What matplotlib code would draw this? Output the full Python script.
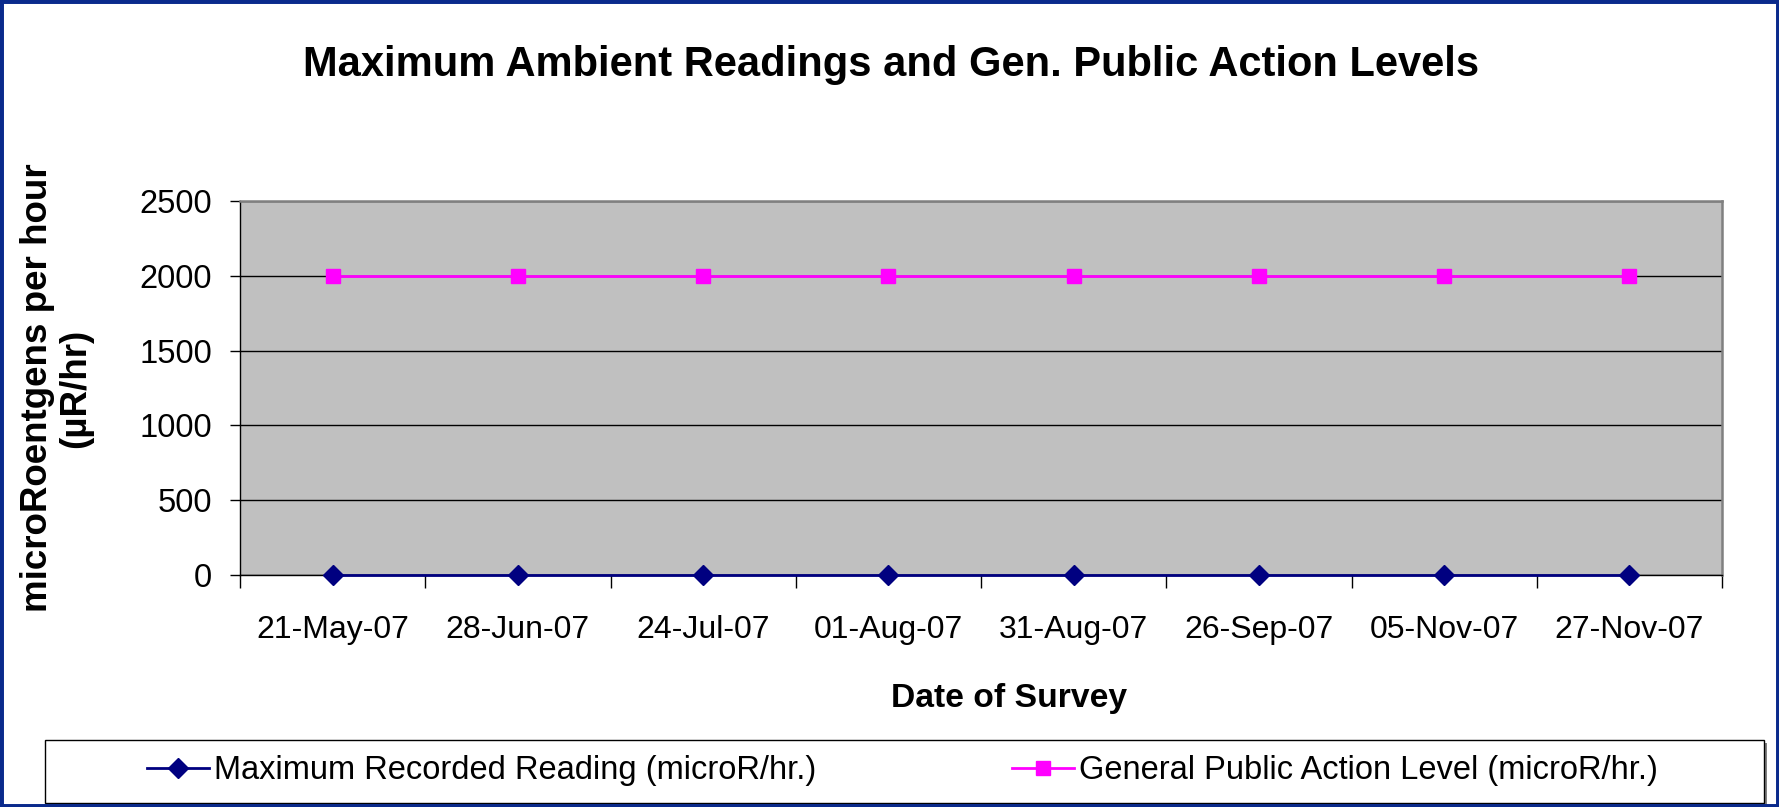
import numpy as np
from matplotlib import pyplot as plt
from matplotlib.patches import Rectangle

plt.rcParams['font.family'] = ['Liberation Sans', 'DejaVu Sans']

DATES = ["21-May-07", "28-Jun-07", "24-Jul-07", "01-Aug-07",
         "31-Aug-07", "26-Sep-07", "05-Nov-07", "27-Nov-07"]
MAX_READING = [0, 0, 0, 0, 0, 0, 0, 0]
ACTION_LEVEL = [2000, 2000, 2000, 2000, 2000, 2000, 2000, 2000]
YTICKS = [0, 500, 1000, 1500, 2000, 2500]

NAVY = "#000080"
MAGENTA = "#FF00FF"

W, H = 1779, 807
fig = plt.figure(figsize=(W / 100, H / 100), dpi=100)
ax = fig.add_axes([240 / W, 1 - 575 / H, (1722 - 240) / W, (575 - 201) / H])
ax.set_facecolor("#C0C0C0")

x = np.arange(len(DATES))
ax.plot(x, MAX_READING, "-", color=NAVY, lw=2, marker="D", ms=10,
        label="Maximum Recorded Reading (microR/hr.)", zorder=3, clip_on=False)
ax.plot(x, ACTION_LEVEL, "-", color=MAGENTA, lw=2, marker="s", ms=9.5,
        label="General Public Action Level (microR/hr.)", zorder=3)

ax.set_xlim(-0.5, len(DATES) - 0.5)
ax.set_ylim(0, 2500)
ax.set_yticks(YTICKS)
ax.set_yticklabels([str(v) for v in YTICKS])
ax.yaxis.grid(True, color="black", lw=1)
ax.set_axisbelow(True)

ax.set_xticks(x)
ax.set_xticklabels(DATES)
ax.set_xticks(np.arange(len(DATES) + 1) - 0.5, minor=True)
ax.tick_params(axis="x", which="major", length=0, pad=29, labelsize=23)
ax.tick_params(axis="x", which="minor", length=9, width=1, direction="out")
ax.tick_params(axis="y", length=7, width=1, direction="out", pad=13, labelsize=23.5)

for s in ["top", "right"]:
    ax.spines[s].set_color("#808080")
    ax.spines[s].set_linewidth(1.8)
for s in ["left", "bottom"]:
    ax.spines[s].set_color("black")
    ax.spines[s].set_linewidth(1)

ax.set_ylabel("microRoentgens per hour\n(\u00b5R/hr)", fontsize=26.5, fontweight="bold",
              linespacing=1.12)
ax.yaxis.set_label_coords((93 - 240) / 1482, 0.5)
ax.set_xlabel("Date of Survey", fontsize=24.2, fontweight="bold")
ax.xaxis.set_label_coords((1009 - 240) / 1482, -0.29)

fig.text(891 / W, 1 - 65 / H, "Maximum Ambient Readings and Gen. Public Action Levels",
         ha="center", va="center", fontsize=30, fontweight="bold")

# legend box
fig.add_artist(Rectangle((48 / W, 1 - 806 / H), (1767 - 48) / W, 63 / H,
                         transform=fig.transFigure, facecolor="#808080",
                         edgecolor="none", zorder=1))
fig.add_artist(Rectangle((45 / W, 1 - 803 / H), (1764 - 45) / W, 63 / H,
                         transform=fig.transFigure, facecolor="white",
                         edgecolor="black", lw=1, zorder=2))
leg = fig.legend(loc="center", bbox_to_anchor=(902 / W, 1 - 771 / H), ncol=2,
                 frameon=False, fontsize=23.5, handlelength=1.9, handletextpad=0.15,
                 columnspacing=6.0)
leg.set_zorder(3)

# outer border
fig.add_artist(Rectangle((0, 0), 1, 1, transform=fig.transFigure, fill=False,
                         edgecolor="#0A2A8C", lw=5, zorder=10))

fig.savefig("out.png", dpi=100)
plt.close(fig)
